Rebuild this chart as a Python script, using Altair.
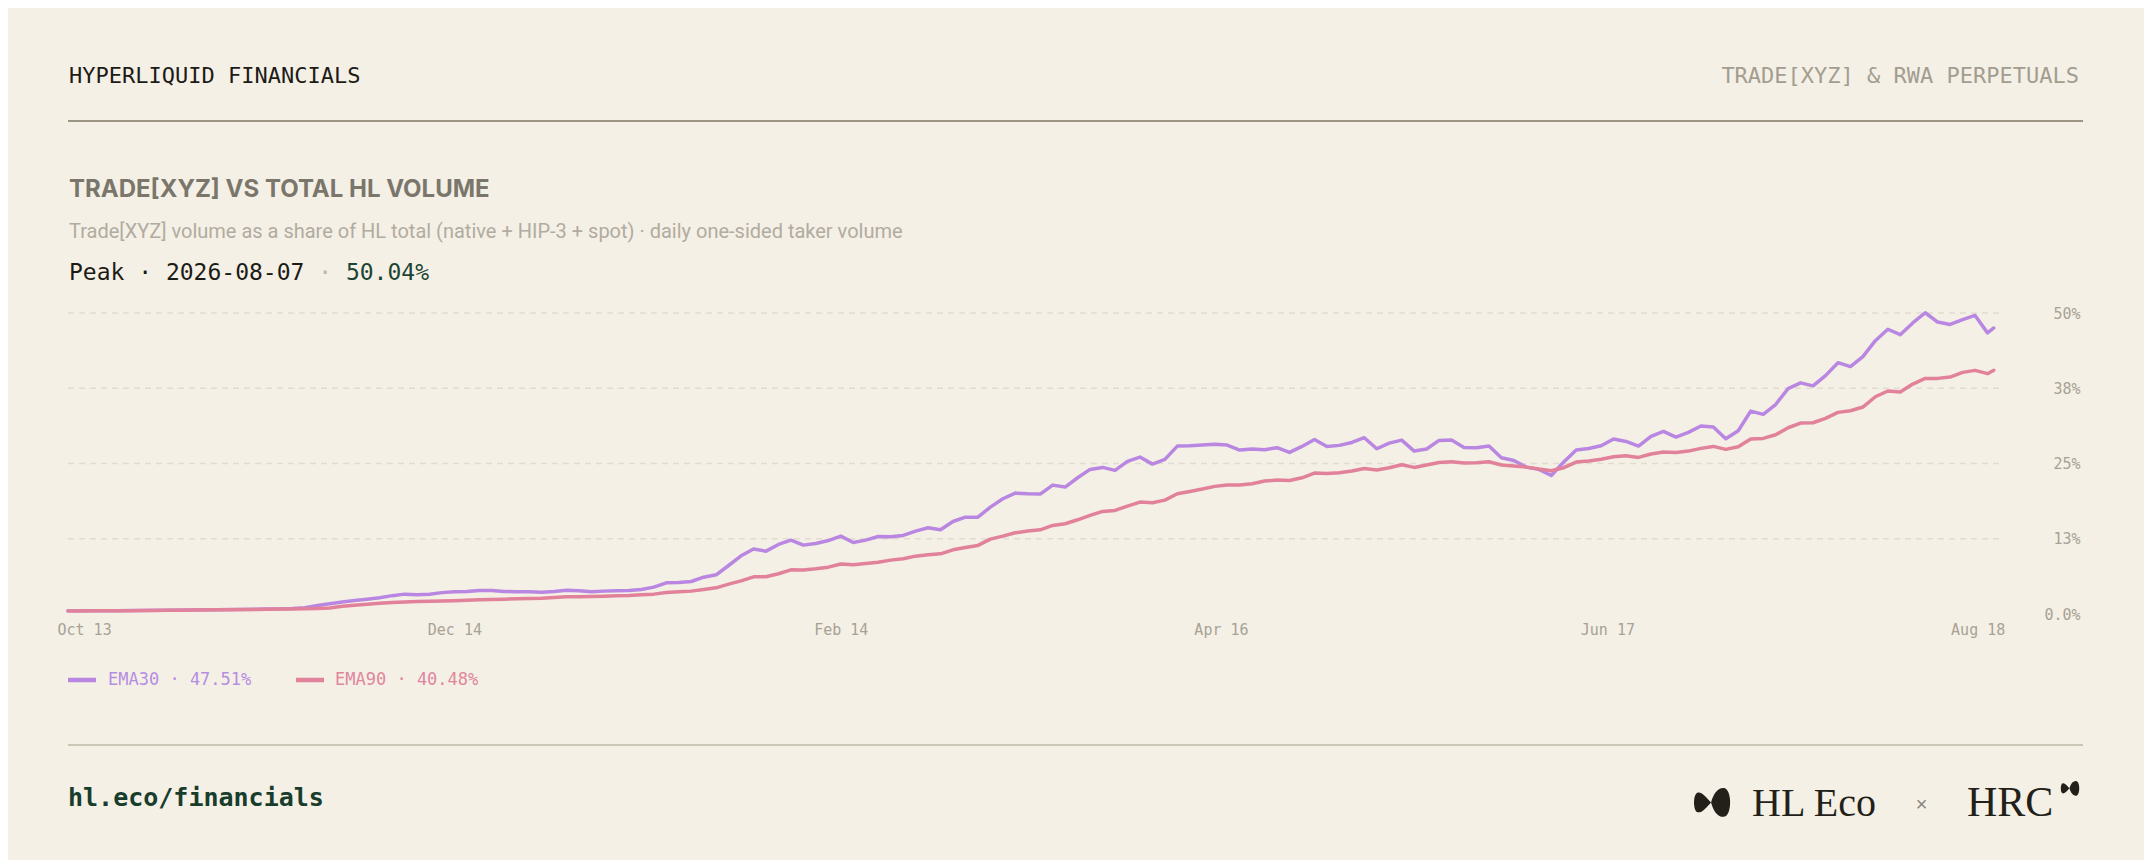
import altair as alt
import pandas as pd

# ---------------- data (percent values) ----------------
series_names = ["EMA30", "EMA90"]

ema30 = [
    0.52, 0.53, 0.54, 0.55, 0.56, 0.58, 0.60, 0.62, 0.64, 0.66,
    0.67, 0.69, 0.71, 0.73, 0.75, 0.78, 0.81, 0.85, 0.90, 1.05,
    1.40, 1.70, 2.00, 2.24, 2.45, 2.70, 3.05, 3.30, 3.20, 3.27,
    3.55, 3.70, 3.74, 3.91, 3.91, 3.74, 3.71, 3.68, 3.60, 3.74,
    3.96, 3.85, 3.71, 3.80, 3.85, 3.91, 4.07, 4.46, 5.18, 5.24,
    5.40, 6.12, 6.51, 8.06, 9.67, 10.80, 10.44, 11.55, 12.27, 11.44,
    11.72, 12.20, 12.94, 11.88, 12.27, 12.88, 12.83, 13.05, 13.77, 14.32,
    13.99, 15.37, 16.09, 16.09, 17.76, 19.14, 20.08, 19.97, 19.92, 21.41,
    21.08, 22.63, 24.02, 24.35, 23.85, 25.35, 26.07, 24.90, 25.68, 27.89,
    27.95, 28.06, 28.20, 28.06, 27.23, 27.40, 27.29, 27.62, 26.84, 27.84,
    29.00, 27.84, 28.01, 28.50, 29.28, 27.45, 28.39, 28.89, 27.06, 27.40,
    28.84, 28.89, 27.67, 27.62, 27.90, 25.96, 25.51, 24.40, 24.02, 23.00,
    25.24, 27.23, 27.50, 27.95, 29.06, 28.67, 27.89, 29.50, 30.33, 29.39,
    30.17, 31.22, 31.05, 29.11, 30.44, 33.70, 33.16, 34.80, 37.45, 38.40,
    37.90, 39.60, 41.75, 41.10, 42.75, 45.40, 47.30, 46.40, 48.35, 50.04,
    48.50, 48.10, 48.90, 49.60, 46.70,
    47.51,
]

ema90 = [
    0.50, 0.51, 0.52, 0.53, 0.54, 0.56, 0.58, 0.60, 0.62, 0.64,
    0.65, 0.67, 0.69, 0.71, 0.73, 0.75, 0.78, 0.81, 0.85, 0.88,
    0.93, 0.99, 1.30, 1.47, 1.63, 1.80, 1.92, 2.00, 2.06, 2.12,
    2.18, 2.22, 2.30, 2.35, 2.41, 2.47, 2.52, 2.58, 2.63, 2.74,
    2.85, 2.88, 2.91, 2.96, 3.02, 3.07, 3.19, 3.30, 3.57, 3.68,
    3.80, 4.07, 4.35, 4.96, 5.51, 6.18, 6.18, 6.68, 7.34, 7.29,
    7.51, 7.78, 8.30, 8.17, 8.39, 8.61, 8.95, 9.17, 9.61, 9.83,
    10.00, 10.66, 11.05, 11.39, 12.44, 12.94, 13.49, 13.77, 13.99, 14.71,
    14.99, 15.65, 16.37, 17.04, 17.20, 17.92, 18.59, 18.48, 18.92, 19.97,
    20.36, 20.75, 21.20, 21.41, 21.41, 21.63, 22.08, 22.24, 22.19, 22.63,
    23.41, 23.35, 23.46, 23.74, 24.18, 23.91, 24.30, 24.79, 24.35, 24.74,
    25.18, 25.29, 25.07, 25.12, 25.29, 24.74, 24.57, 24.40, 24.07, 23.80,
    24.30, 25.24, 25.43, 25.72, 26.12, 26.29, 26.01, 26.57, 26.90, 26.84,
    27.06, 27.51, 27.84, 27.34, 27.79, 29.06, 29.17, 29.78, 30.94, 31.72,
    31.77, 32.49, 33.49, 33.77, 34.38, 36.09, 37.04, 36.87, 38.20, 39.14,
    39.14, 39.36, 40.14, 40.47, 39.92,
    40.48,
]

# sample dates: every second day from 2025-10-13, plus the last day
dates = list(pd.date_range("2025-10-13", periods=155, freq="2D")) + [pd.Timestamp("2026-08-18")]
assert len(dates) == len(ema30) == len(ema90)

x_tick_dates = ["2025-10-13", "2025-12-14", "2026-02-14", "2026-04-16", "2026-06-17", "2026-08-18"]
x_domain_dates = ["2025-10-13", "2026-08-19"]
y_tick_values = [0, 0.125, 0.25, 0.375, 0.5]
grid_values = [0.125, 0.25, 0.375, 0.5]


def ms(d):
    return int(pd.Timestamp(d).value // 10**6)


rows = []
for name, vals in zip(series_names, [ema30, ema90]):
    for d, v in zip(dates, vals):
        rows.append({"t": ms(d), "v": v / 100.0, "series": name})
df = pd.DataFrame(rows)

peak_i = max(range(len(ema30)), key=lambda i: ema30[i])
peak_date = dates[peak_i].strftime("%Y-%m-%d")
peak_val = f"{ema30[peak_i]:.2f}%"

# ---------------- style ----------------
BG = "#f4f0e6"
PURPLE = "#b987e1"
PINK = "#e2819a"
MONO = "DejaVu Sans Mono"
SANS = "Inter"
SERIF = "Liberation Serif"
AXIS_GRAY = "#a8a295"

W, H = 1932, 301

xscale = alt.Scale(type="utc", domain=[ms(d) for d in x_domain_dates])
yscale = alt.Scale(domain=[0, 0.5], nice=False, zero=True)

y_axis = alt.Axis(
    orient="right", values=y_tick_values,
    labelExpr="datum.value == 0 ? '0.0%' : format(datum.value, '.0%')",
    domain=False, ticks=False, grid=False, labelOverlap=False,
    labelAlign="right", labelBaseline="middle", labelPadding=80,
    labelFont=MONO, labelFontSize=15, labelColor=AXIS_GRAY,
)

one = pd.DataFrame({"a": [0]})


def label(text, x, y, size, color, font=MONO, weight="normal", align="left", baseline="middle"):
    return alt.Chart(pd.DataFrame({"txt": [text]})).mark_text(
        align=align, baseline=baseline, font=font, fontSize=size,
        fontWeight=weight, color=color
    ).encode(x=alt.value(x), y=alt.value(y), text="txt:N")


def hrule(y, x1, x2, color, width):
    return alt.Chart(one).mark_rule(color=color, strokeWidth=width).encode(
        x=alt.value(x1), x2=alt.value(x2), y=alt.value(y)
    )


grid = alt.Chart(pd.DataFrame({"v": grid_values})).mark_rule(
    color="#e2dccf", strokeWidth=1.5, strokeDash=[6, 5]
).encode(
    y=alt.Y("v:Q", scale=yscale, title=None, axis=y_axis),
    x=alt.value(0), x2=alt.value(W),
)

lines = alt.Chart(df).mark_line(
    strokeWidth=3.5, strokeCap="round", strokeJoin="round"
).encode(
    x=alt.X("t:T", scale=xscale, title=None, axis=alt.Axis(
        values=[ms(d) for d in x_tick_dates],
        labelExpr="utcFormat(datum.value, '%b %d')",
        labelFlush=10, labelFlushOffset=11, labelOverlap=False,
        domain=False, ticks=False, grid=False,
        labelFont=MONO, labelFontSize=15, labelColor=AXIS_GRAY, labelPadding=8,
    )),
    y=alt.Y("v:Q", scale=yscale, title=None, axis=y_axis),
    color=alt.Color("series:N", scale=alt.Scale(domain=series_names, range=[PURPLE, PINK]), legend=None),
)

# legend (custom)
leg_y = 367
legend_layers = [
    hrule(leg_y, 0, 28, PURPLE, 4.5),
    label(f"{series_names[0]} · {ema30[-1]:.2f}%", 40, leg_y, 17, "#b68de2"),
    hrule(leg_y, 228, 256, PINK, 4.5),
    label(f"{series_names[1]} · {ema90[-1]:.2f}%", 267, leg_y, 17, "#df869d"),
]

adv = 0.602 * 23
header_layers = [
    label("HYPERLIQUID FINANCIALS", 1, -237, 22, "#1d1b16"),
    label("TRADE[XYZ] & RWA PERPETUALS", 2011, -237, 22, "#a39d90", align="right"),
    hrule(-192, 0, 2015, "#9d9584", 2),
    label("TRADE[XYZ] VS TOTAL HL VOLUME", 1, -123, 24, "#7b766b", font=SANS, weight=700),
    label("Trade[XYZ] volume as a share of HL total (native + HIP-3 + spot) · daily one-sided taker volume",
          1, -74.7, 20, "#b2ab9f", font="Roboto", baseline="alphabetic"),
    label(f"Peak · {peak_date}", 1, -33, 23, "#1d1b16", baseline="alphabetic"),
    label("·", 1 + 18 * adv, -33, 23, "#bdb6a9", baseline="alphabetic"),
    label(peak_val, 1 + 20 * adv, -33, 23, "#1c4434", baseline="alphabetic"),
]

BOW = ("M-0.1,0 C-0.3,-0.2 -0.55,-0.56 -0.8,-0.52 C-1.06,-0.46 -1.06,0.46 -0.8,0.52 "
       "C-0.55,0.56 -0.3,0.2 -0.1,0 Z "
       "M-0.1,0 C0.0,-0.38 0.2,-0.76 0.55,-0.76 C1.02,-0.76 1.02,0.76 0.55,0.76 "
       "C0.2,0.76 0.0,0.38 -0.1,0 Z")

footer_layers = [
    hrule(432, 0, 2015, "#ccc6b6", 2),
    label("hl.eco/financials", 0, 485, 25, "#183d2c", weight="bold"),
    alt.Chart(one).mark_point(shape=BOW, filled=True, size=1450, color="#231f19", opacity=1).encode(
        x=alt.value(1645), y=alt.value(489.4)),
    label("HL Eco", 1684, 502.7, 40, "#231f19", font=SERIF, baseline="alphabetic"),
    label("×", 1853.7, 492, 20, "#8a8478", font="Liberation Sans", align="center"),
    label("HRC", 1899, 502.7, 42, "#231f19", font=SERIF, baseline="alphabetic"),
    alt.Chart(one).mark_point(shape=BOW, filled=True, size=380, color="#231f19", opacity=1).encode(
        x=alt.value(2002.5), y=alt.value(475.3)),
]

chart = alt.layer(
    grid, lines, *legend_layers, *header_layers, *footer_layers
).properties(
    width=W, height=H,
    autosize=alt.AutoSizeParams(type="none"),
    padding={"left": 60, "top": 305, "right": 144, "bottom": 246},
    background=BG,
).configure_view(stroke=None)

chart.save("out.html", embed_options={"renderer": "svg", "actions": False})
